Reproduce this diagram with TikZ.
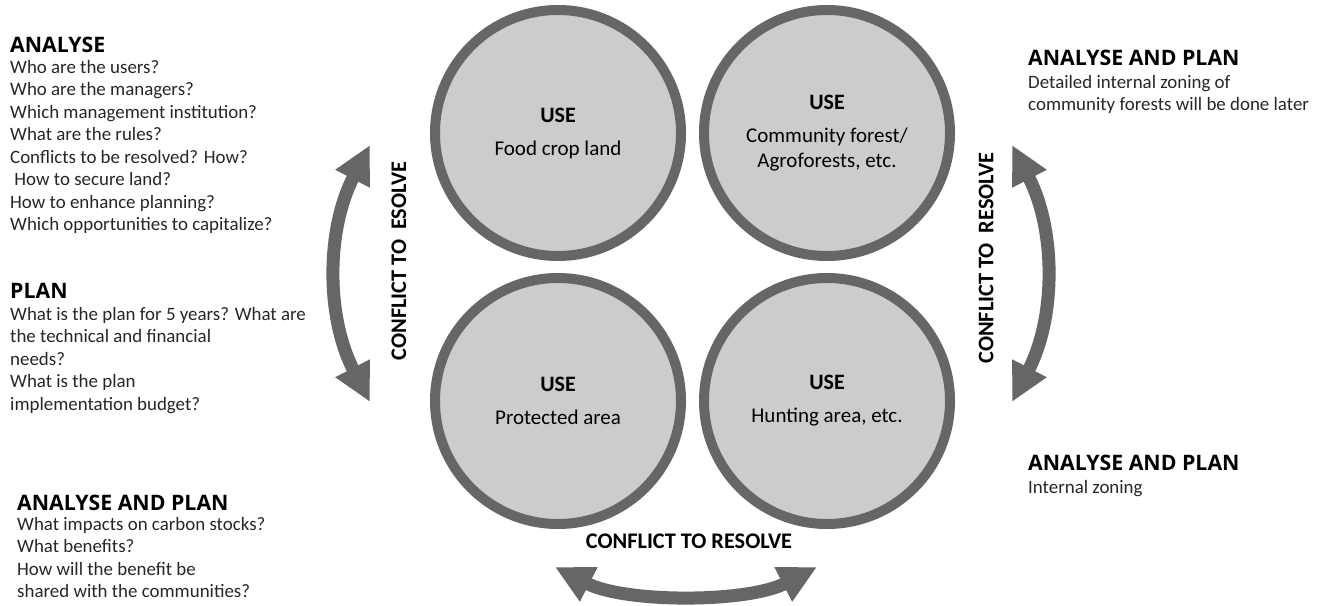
\documentclass[tikz,border=0pt]{standalone}
\usepackage{fontspec}
\setmainfont{Carlito}
\newfontfamily\headfont{Open Sans}[BoldFont={Open Sans Bold}]
\usetikzlibrary{arrows.meta}
\definecolor{ring}{HTML}{666666}
\definecolor{disc}{HTML}{CCCCCC}
\definecolor{bodytxt}{HTML}{262626}
\begin{document}
\begin{tikzpicture}[x=1pt,y=-1pt,
  usecircle/.style={circle, draw=ring, fill=disc, line width=10pt, minimum size=246pt, inner sep=0pt,
     align=center, font=\fontsize{21}{25}\selectfont, text=black},
  headtxt/.style={anchor=north west, inner sep=0pt, font=\headfont\fontsize{21.3}{25}\selectfont\bfseries, text=black},
  bodyblock/.style={anchor=north west, inner sep=0pt, align=left, font=\fontsize{18.9}{22.5}\selectfont, text=bodytxt},
  conflictlbl/.style={inner sep=0pt, font=\fontsize{22.3}{25}\selectfont\bfseries, text=black},
  conflict/.style={draw=ring, line width=13pt, {Triangle[length=38pt,width=36pt]}-{Triangle[length=38pt,width=36pt]}}
]
\useasboundingbox (0,0) rectangle (1324,605);

% circles
\node[usecircle] (c1) at (558,133) {{\fontsize{22}{25}\selectfont\bfseries USE}\\[8pt]Food crop land};
\node[usecircle] (c2) at (827,133) {{\fontsize{22}{25}\selectfont\bfseries USE}\\[8pt]Community forest/\\Agroforests, etc.};
\node[usecircle] (c3) at (558,401) {{\fontsize{22}{25}\selectfont\bfseries USE}\\[8pt]Protected area};
\node[usecircle] (c4) at (827,401) {{\fontsize{22}{25}\selectfont\bfseries USE}\\[8pt]Hunting area, etc.};

% arrows
\coordinate (lt) at (370,145);
\coordinate (lb) at (370,402);
\coordinate (rt) at (1012,145);
\coordinate (rb) at (1012,402);
\coordinate (bl) at (555,567);
\coordinate (br) at (817,567);
\draw[conflict] (lt) .. controls (326,230) and (326,317) .. (lb);
\draw[conflict] (rt) .. controls (1056,230) and (1056,317) .. (rb);
\draw[conflict] (bl) .. controls (625,603) and (747,603) .. (br);

\node[conflictlbl, rotate=90] (lbl1) at (399,261) {CONFLICT TO\ \ ESOLVE};
\node[conflictlbl, rotate=90] (lbl2) at (986,258) {CONFLICT TO\ \ RESOLVE};
\node[conflictlbl] (lbl3) at (689,541) {CONFLICT TO RESOLVE};

% left texts
\node[headtxt] (h1) at (10,37) {ANALYSE};
\node[bodyblock] (b1) at (10,60) {Who are the users?\\Who are the managers?\\Which management institution?\\What are the rules?\\Conflicts to be resolved? How?\\\ How to secure land?\\How to enhance planning?\\Which opportunities to capitalize?};
\node[headtxt] (h2) at (10,283) {PLAN};
\node[bodyblock] (b2) at (10,307) {What is the plan for 5 years? What are\\the technical and financial\\needs?\\What is the plan\\implementation budget?};
\node[headtxt] (h3) at (17,495) {ANALYSE AND PLAN};
\node[bodyblock] (b3) at (17,517) {What impacts on carbon stocks?\\What benefits?\\How will the benefit be\\shared with the communities?};

% right texts
\node[headtxt] (h4) at (1028,50) {ANALYSE AND PLAN};
\node[bodyblock] (b4) at (1028,75) {Detailed internal zoning of\\community forests will be done later};
\node[headtxt] (h5) at (1028,455) {ANALYSE AND PLAN};
\node[bodyblock] (b5) at (1028,480) {Internal zoning};
\end{tikzpicture}
\end{document}
